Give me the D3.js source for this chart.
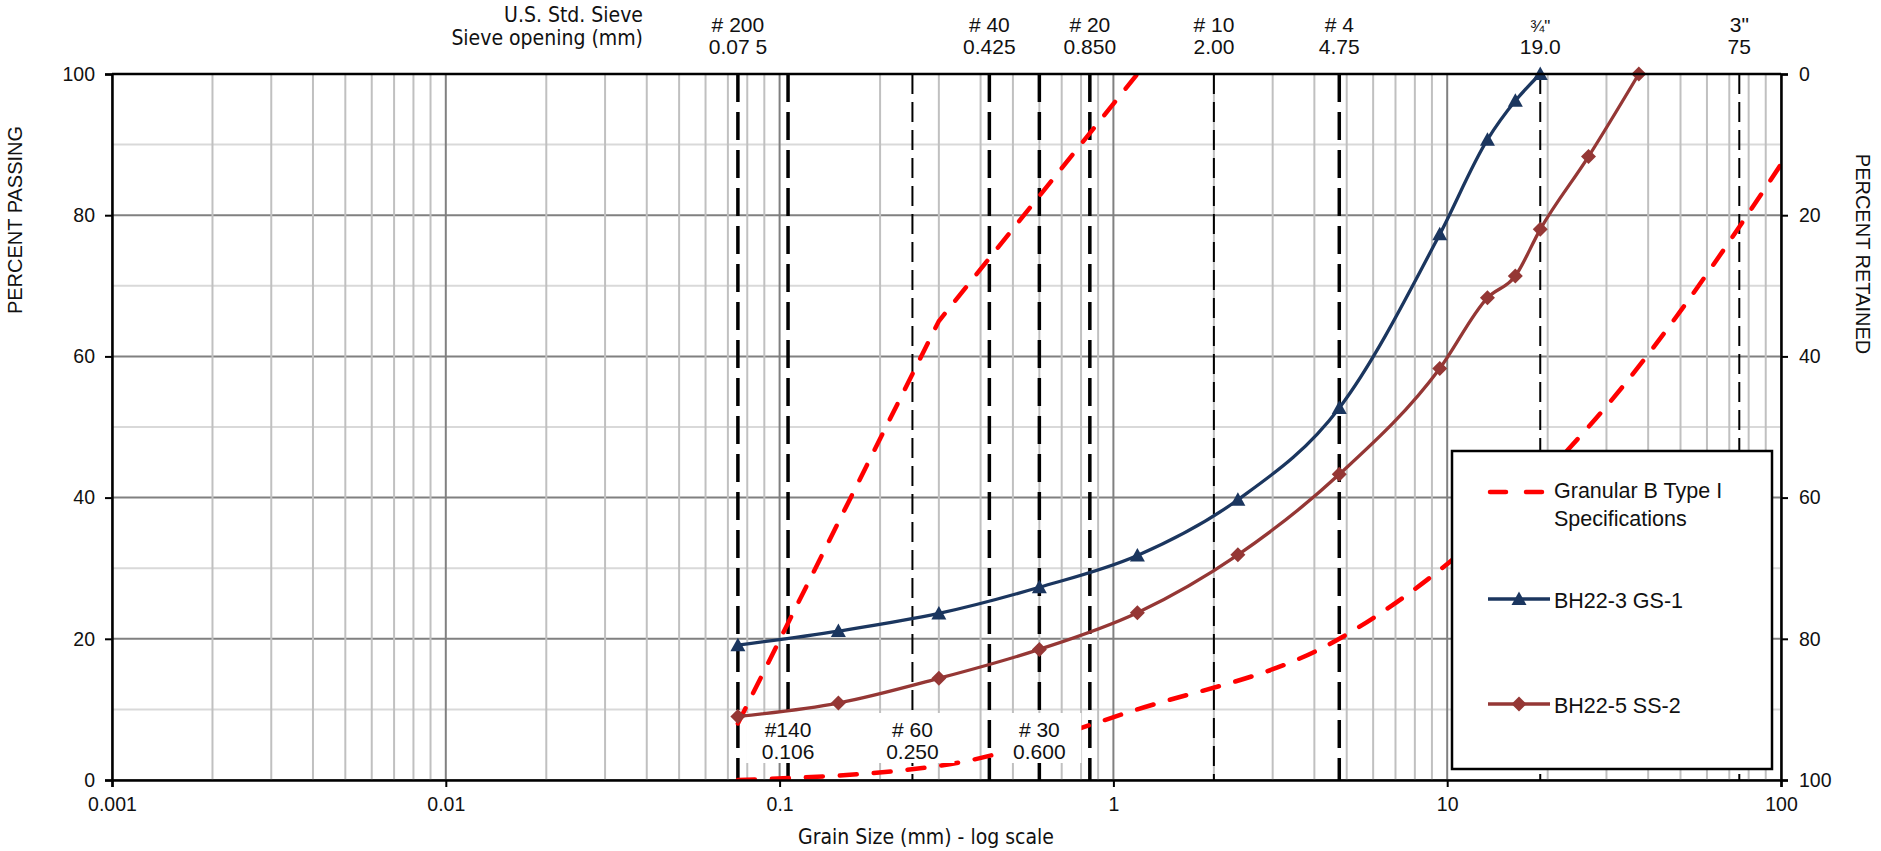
<!DOCTYPE html>
<html>
<head>
<meta charset="utf-8">
<script src="https://cdn.jsdelivr.net/npm/d3@7"></script>
<style>
body { margin: 0; background: #fff; }
svg text { font-family: 'Liberation Sans', Arial, sans-serif; fill: #111; }
svg text.narrow { font-family: 'Liberation Sans Narrow', 'Arial Narrow', 'DejaVu Sans Condensed', sans-serif; }
</style>
</head>
<body>
<div id="chart"></div>
<script>
// sample BH22-3 GS-1
var gs1Size = [0.075, 0.15, 0.3, 0.6, 1.18, 2.36, 4.75, 9.5, 13.2, 16, 19];
var gs1Pass = [19.1, 21.1, 23.6, 27.3, 31.8, 39.7, 52.7, 77.3, 90.7, 96.2, 100];

// sample BH22-5 SS-2
var ss2Size = [0.075, 0.15, 0.3, 0.6, 1.18, 2.36, 4.75, 9.5, 13.2, 16, 19, 26.5, 37.5];
var ss2Pass = [9.0, 10.9, 14.4, 18.5, 23.7, 31.9, 43.3, 58.3, 68.3, 71.4, 78.0, 88.3, 100];

// Granular B Type I envelope
var specUpSize = [0.075, 0.3, 1.18];
var specUpPass = [8, 65, 100];
var specLowSize = [0.075, 0.3, 1.18, 4.75, 26.5, 150];
var specLowPass = [0, 2, 10, 20, 50, 100];

// sieve lines
var sieveSizes = [0.075, 0.106, 0.25, 0.425, 0.6, 0.85, 2.0, 4.75, 19.0, 75];
var heavySieves = [0.075, 0.106, 0.425, 0.6, 0.85, 4.75];

var topSieveNo = ['# 200', '# 40', '# 20', '# 10', '# 4', '\u00be"', '3"'];
var topSieveAt = [0.075, 0.425, 0.85, 2.0, 4.75, 19.0, 75];
var topSieveMm = ['0.07 5', '0.425', '0.850', '2.00', '4.75', '19.0', '75'];

var lowSieveNo = ['#140', '# 60', '# 30'];
var lowSieveAt = [0.106, 0.25, 0.6];
var lowSieveMm = ['0.106', '0.250', '0.600'];

var xTicks = [0.001, 0.01, 0.1, 1, 10, 100];
var yTicks = [0, 20, 40, 60, 80, 100];

var
width = 1881,
height = 851,
pLeft = 112,
pRight = 1781,
pTop = 74,
pBottom = 780
;

var navy = '#1b365f', brown = '#953735', red = '#ff0000';

function zip(a, b) { return a.map(function(v, i) { return [v, b[i]]; }); }

var x = d3.scaleLog().domain([0.001, 100]).range([pLeft, pRight]);
var y = d3.scaleLinear().domain([0, 100]).range([pBottom, pTop]);
var yRet = d3.scaleLinear().domain([0, 100]).range([pTop, pBottom]);

var svg = d3.select('#chart').append('svg').attr('width', width).attr('height', height);

svg.append('clipPath').attr('id', 'plot').append('rect')
    .attr('x', pLeft).attr('y', pTop).attr('width', pRight - pLeft).attr('height', pBottom - pTop);

// grid
var grid = svg.append('g');
var hTicks = y.ticks(10);
grid.selectAll('line.h').data(hTicks).enter().append('line')
    .attr('x1', pLeft).attr('x2', pRight)
    .attr('y1', function(d) { return y(d); }).attr('y2', function(d) { return y(d); })
    .style('stroke', function(d) { return d % 20 == 0 ? '#808080' : '#d9d9d9'; })
    .style('stroke-width', 2);

var vTicks = x.ticks();
function isDecade(d) { return Math.abs(Math.log10(d) - Math.round(Math.log10(d))) < 1e-9; }
grid.selectAll('line.v').data(vTicks).enter().append('line')
    .attr('y1', pTop).attr('y2', pBottom)
    .attr('x1', function(d) { return x(d); }).attr('x2', function(d) { return x(d); })
    .style('stroke', function(d) { return isDecade(d) ? '#808080' : '#c0c0c0'; })
    .style('stroke-width', 2);

// sieve lines
svg.append('g').selectAll('line').data(sieveSizes).enter().append('line')
    .attr('y1', pTop).attr('y2', pBottom)
    .attr('x1', function(d) { return x(d); }).attr('x2', function(d) { return x(d); })
    .style('stroke', '#000')
    .style('stroke-width', function(d) { return heavySieves.indexOf(d) >= 0 ? 3.5 : 2; })
    .style('stroke-dasharray', function(d) { return heavySieves.indexOf(d) >= 0 ? '28,10' : '20,8'; });

// spec envelope
var line = d3.line()
    .x(function(d) { return x(d[0]); })
    .y(function(d) { return y(d[1]); })
    .curve(d3.curveMonotoneX);
var straight = d3.line()
    .x(function(d) { return x(d[0]); })
    .y(function(d) { return y(d[1]); });

var spec = svg.append('g').attr('clip-path', 'url(#plot)');
[straight(zip(specUpSize, specUpPass)), line(zip(specLowSize, specLowPass))].forEach(function(p) {
  spec.append('path').attr('d', p)
      .style('fill', 'none').style('stroke', red).style('stroke-width', 4.5)
      .style('stroke-dasharray', '17,17').style('stroke-linecap', 'round');
});

// lower sieve labels
var lows = svg.append('g').selectAll('g').data(lowSieveAt).enter().append('g')
    .attr('transform', function(d) { return 'translate(' + x(d) + ',0)'; });
lows.append('rect').attr('x', -42).attr('y', 713).attr('width', 84).attr('height', 50).style('fill', '#fff');
lows.append('text').attr('y', 737).attr('text-anchor', 'middle').style('font-size', '21px')
    .text(function(d, i) { return lowSieveNo[i]; });
lows.append('text').attr('y', 759).attr('text-anchor', 'middle').style('font-size', '21px')
    .text(function(d, i) { return lowSieveMm[i]; });

// samples
function tri(s) { return 'M0,' + (-s) + 'L' + s + ',' + (s * 0.8) + 'L' + (-s) + ',' + (s * 0.8) + 'Z'; }
function dia(s) { return 'M0,' + (-s) + 'L' + s + ',0L0,' + s + 'L' + (-s) + ',0Z'; }

var series = [
  { pts: zip(gs1Size, gs1Pass), color: navy, mark: tri(7.5) },
  { pts: zip(ss2Size, ss2Pass), color: brown, mark: dia(7.5) }
];
series.forEach(function(s) {
  var g = svg.append('g');
  g.append('path').attr('d', line(s.pts))
      .style('fill', 'none').style('stroke', s.color).style('stroke-width', 3.3);
  g.selectAll('path.m').data(s.pts).enter().append('path')
      .attr('d', s.mark)
      .attr('transform', function(d) { return 'translate(' + x(d[0]) + ',' + y(d[1]) + ')'; })
      .style('fill', s.color);
});

// axes
var ax = svg.append('g');
ax.append('g').attr('transform', 'translate(' + pLeft + ',0)')
    .call(d3.axisLeft(y).tickValues(yTicks).tickSize(7).tickPadding(10));
ax.append('g').attr('transform', 'translate(' + pRight + ',0)')
    .call(d3.axisRight(yRet).tickValues(yTicks).tickSize(7).tickPadding(11));
ax.append('g').attr('transform', 'translate(0,' + pBottom + ')')
    .call(d3.axisBottom(x).tickValues(xTicks).tickFormat(function(d) { return String(d); })
      .tickSize(7).tickPadding(10));
ax.append('line').attr('x1', pLeft).attr('x2', pRight).attr('y1', pTop).attr('y2', pTop)
    .style('stroke', '#000').style('stroke-width', 2.5);
ax.selectAll('.domain').style('stroke', '#000').style('stroke-width', 2.5);
ax.selectAll('.tick line').style('stroke', '#000').style('stroke-width', 2);
ax.selectAll('.tick text').style('font-size', '19.5px').style('fill', '#111');
ax.selectAll('g').attr('font-family', null).attr('font-size', null);

svg.append('text').attr('transform', 'translate(22,220) rotate(-90)')
    .attr('text-anchor', 'middle').style('font-size', '20px').text('PERCENT PASSING');
svg.append('text').attr('transform', 'translate(1856,254) rotate(90)')
    .attr('text-anchor', 'middle').style('font-size', '20px').text('PERCENT RETAINED');
svg.append('text').attr('class', 'narrow').attr('x', 926).attr('y', 844)
    .attr('text-anchor', 'middle').style('font-size', '21px').text('Grain Size (mm) - log scale');

// top labels
svg.append('text').attr('class', 'narrow').attr('x', 643).attr('y', 22)
    .attr('text-anchor', 'end').style('font-size', '21px').text('U.S. Std. Sieve');
svg.append('text').attr('class', 'narrow').attr('x', 643).attr('y', 45)
    .attr('text-anchor', 'end').style('font-size', '21px').text('Sieve opening (mm)');
var tops = svg.append('g').selectAll('g').data(topSieveAt).enter().append('g')
    .attr('transform', function(d) { return 'translate(' + x(d) + ',0)'; });
tops.append('text').attr('y', 32).attr('text-anchor', 'middle')
    .style('font-size', function(d, i) { return i == 5 ? '17px' : '21px'; })
    .text(function(d, i) { return topSieveNo[i]; });
tops.append('text').attr('y', 54).attr('text-anchor', 'middle').style('font-size', '21px')
    .text(function(d, i) { return topSieveMm[i]; });

// legend
var lg = svg.append('g');
lg.append('rect').attr('x', 1452).attr('y', 451).attr('width', 320).attr('height', 318)
    .style('fill', '#fff').style('stroke', '#000').style('stroke-width', 2.5);
lg.append('line').attr('x1', 1490).attr('x2', 1545).attr('y1', 492).attr('y2', 492)
    .style('stroke', red).style('stroke-width', 4.5).style('stroke-dasharray', '16,20').style('stroke-linecap', 'round');
lg.append('text').attr('x', 1554).attr('y', 498).style('font-size', '21.5px').text('Granular B Type I');
lg.append('text').attr('x', 1554).attr('y', 526).style('font-size', '21.5px').text('Specifications');
[[599, navy, tri(7.5), 'BH22-3 GS-1'], [704, brown, dia(7.5), 'BH22-5 SS-2']].forEach(function(it) {
  lg.append('line').attr('x1', 1488).attr('x2', 1550).attr('y1', it[0]).attr('y2', it[0])
      .style('stroke', it[1]).style('stroke-width', 3.3);
  lg.append('path').attr('d', it[2]).attr('transform', 'translate(1519,' + it[0] + ')').style('fill', it[1]);
  lg.append('text').attr('x', 1554).attr('y', it[0] + 9).style('font-size', '21.5px').text(it[3]);
});
</script>
</body>
</html>
